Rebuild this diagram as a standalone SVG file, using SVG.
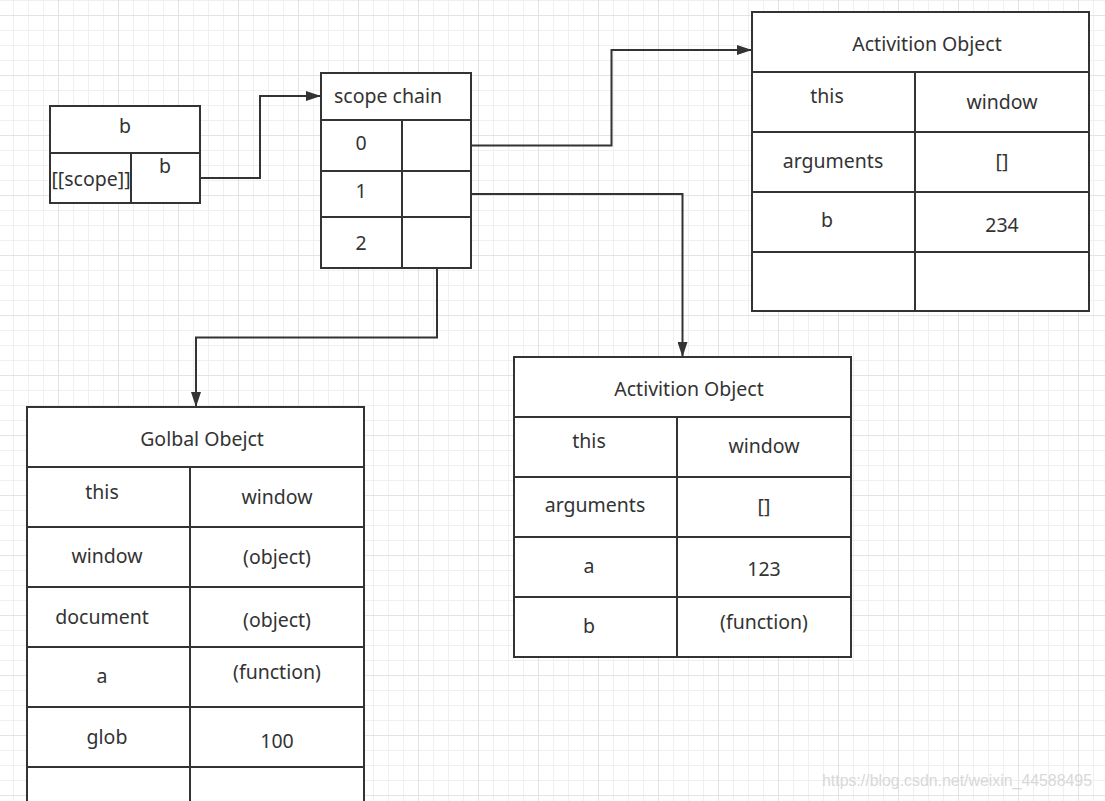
<svg xmlns="http://www.w3.org/2000/svg" width="1105" height="801" viewBox="0 0 1105 801">
  <defs>
    <pattern id="grid" patternUnits="userSpaceOnUse" x="58" y="15" width="60" height="60">
      <path d="M15.5 0V60M30.5 0V60M45.5 0V60M0 15.5H60M0 30.5H60M0 45.5H60" stroke="#f0f0f0" stroke-width="1" fill="none"/>
      <path d="M0.5 0V60M0 0.5H60" stroke="#e3e3e3" stroke-width="1" fill="none"/>
    </pattern>
    <marker id="arrow" viewBox="0 0 15 10" refX="15" refY="5" markerWidth="15" markerHeight="10" markerUnits="userSpaceOnUse" orient="auto">
      <path d="M0 0L15 5L0 10Z" fill="#333"/>
    </marker>
    <style>
      .box { fill: #ffffff; stroke: #333333; stroke-width: 2; }
      .ln { stroke: #333333; stroke-width: 2; fill: none; }
      .t { font-family: "Noto Sans", "Open Sans", sans-serif; font-size: 19.5px; fill: #333333; text-anchor: middle; }
      .tl { font-family: "Noto Sans", "Open Sans", sans-serif; font-size: 19.5px; fill: #333333; text-anchor: start; }
      .conn { stroke: #333333; stroke-width: 2; fill: none; marker-end: url(#arrow); }
      .wm { font-family: "Liberation Sans", Arial, sans-serif; font-size: 17px; fill: #d8d8d8; }
    </style>
  </defs>

  <rect x="0" y="0" width="1105" height="801" fill="#ffffff"/>
  <rect x="0" y="0" width="1105" height="801" fill="url(#grid)"/>

  <g id="connectors">
    <path class="conn" d="M200 178H260V96H321"/>
    <path class="conn" d="M471 145.5H611.5V50H752"/>
    <path class="conn" d="M471 194H682.5V357"/>
    <path class="conn" d="M437 268V337.5H196V407"/>
  </g>

  <g id="func-b">
    <rect class="box" x="50" y="106" width="150" height="97"/>
    <path class="ln" d="M50 153H200M131 153V203"/>
    <text class="t" x="125" y="133">b</text>
    <text class="t" x="91" y="186">[[scope]]</text>
    <text class="t" x="165" y="173">b</text>
  </g>

  <g id="scope-chain">
    <rect class="box" x="321" y="73" width="150" height="195"/>
    <path class="ln" d="M321 120H471M321 171H471M321 217H471M402 120V268"/>
    <text class="tl" x="334" y="103">scope chain</text>
    <text class="t" x="361" y="150">0</text>
    <text class="t" x="361" y="198">1</text>
    <text class="t" x="361" y="250">2</text>
  </g>

  <g id="ao-b">
    <rect class="box" x="752" y="12" width="337" height="299"/>
    <path class="ln" d="M752 72H1089M752 132H1089M752 192H1089M752 252H1089M915 72V311"/>
    <text class="t" x="927" y="51">Activition Object</text>
    <text class="t" x="827" y="103">this</text>
    <text class="t" x="1002" y="109">window</text>
    <text class="t" x="833" y="168">arguments</text>
    <text class="t" x="1002" y="168">[]</text>
    <text class="t" x="827" y="227">b</text>
    <text class="t" x="1002" y="232">234</text>
  </g>

  <g id="ao-a">
    <rect class="box" x="514" y="357" width="337" height="300"/>
    <path class="ln" d="M514 417H851M514 477H851M514 537H851M514 597H851M677 417V657"/>
    <text class="t" x="689" y="396">Activition Object</text>
    <text class="t" x="589" y="448">this</text>
    <text class="t" x="764" y="453">window</text>
    <text class="t" x="595" y="512">arguments</text>
    <text class="t" x="764" y="513">[]</text>
    <text class="t" x="589" y="573">a</text>
    <text class="t" x="764" y="576">123</text>
    <text class="t" x="589" y="633">b</text>
    <text class="t" x="764" y="629">(function)</text>
  </g>

  <g id="global-object">
    <rect class="box" x="27" y="407" width="337" height="420"/>
    <path class="ln" d="M27 467H364M27 527H364M27 587H364M27 647H364M27 707H364M27 767H364M190 467V827"/>
    <text class="t" x="202" y="446">Golbal Obejct</text>
    <text class="t" x="102" y="499">this</text>
    <text class="t" x="277" y="504">window</text>
    <text class="t" x="107" y="563">window</text>
    <text class="t" x="277" y="564">(object)</text>
    <text class="t" x="102" y="624">document</text>
    <text class="t" x="277" y="627">(object)</text>
    <text class="t" x="102" y="683">a</text>
    <text class="t" x="277" y="679">(function)</text>
    <text class="t" x="107" y="744">glob</text>
    <text class="t" x="277" y="748">100</text>
  </g>

  <text class="wm" x="822" y="786" textLength="270" lengthAdjust="spacingAndGlyphs">https://blog.csdn.net/weixin_44588495</text>
</svg>
